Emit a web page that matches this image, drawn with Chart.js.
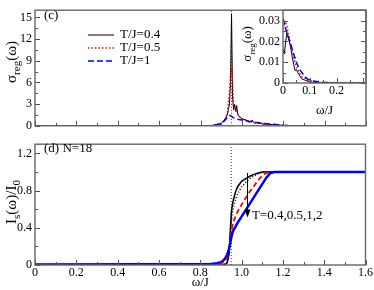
<!DOCTYPE html>
<html>
<head>
<meta charset="utf-8">
<script src="https://cdn.jsdelivr.net/npm/chart.js@4.4.1/dist/chart.umd.min.js"></script>
<style>
  body { margin: 0; background: #fff; }
  #wrap { position: relative; width: 374px; height: 290px; }
  canvas { position: absolute; }
</style>
</head>
<body>
<div id="wrap">
  <canvas id="topChart" width="374" height="136" style="left:0;top:0;width:374px;height:136px"></canvas>
  <canvas id="botChart" width="374" height="156" style="left:0;top:134px;width:374px;height:156px"></canvas>
  <canvas id="insetChart" width="134" height="118" style="left:240px;top:0;width:134px;height:118px"></canvas>
</div>
<script>
// panel (c): regular part of the optical conductivity
const omegaTop = [0, 0.85, 0.9, 0.92, 0.93, 0.94, 0.945, 0.95, 0.955, 0.96, 0.965, 0.97, 0.975, 0.98, 0.99, 1.0, 1.02, 1.04, 1.05, 1.06, 1.08, 1.1, 1.15, 1.2, 1.25, 1.6];
const sigmaT04 = [0, 0, 0.3, 1.0, 1.6, 3.0, 6.0, 15.5, 4.0, 2.2, 3.0, 2.0, 2.8, 1.6, 1.2, 1.0, 0.8, 0.5, 0.8, 0.4, 0.5, 0.3, 0.15, 0.05, 0, 0];
const sigmaT05 = [0, 0, 0.3, 0.9, 1.8, 4.5, 7.0, 8.0, 6.0, 3.0, 2.5, 2.2, 2.0, 1.6, 1.2, 0.9, 0.7, 0.5, 0.6, 0.4, 0.4, 0.3, 0.15, 0.05, 0, 0];
const sigmaT1  = [0, 0, 0.3, 0.8, 1.2, 1.45, 1.4, 1.3, 1.2, 1.1, 1.05, 1.0, 0.95, 0.9, 0.85, 0.8, 0.7, 0.6, 0.55, 0.5, 0.4, 0.35, 0.2, 0.08, 0, 0];

// inset: low frequency part
const omegaInset = [0, 0.005, 0.01, 0.015, 0.02, 0.025, 0.03, 0.035, 0.04, 0.045, 0.05, 0.055, 0.06, 0.07, 0.08, 0.09, 0.1, 0.12, 0.15, 0.2, 0.31];
const insetT04 = [0.016, 0.014, 0.020, 0.024, 0.022, 0.019, 0.016, 0.012, 0.009, 0.006, 0.0065, 0.005, 0.004, 0.002, 0.0015, 0.001, 0.0005, 0.0003, 0, 0, 0];
const insetT05 = [0.026, 0.028, 0.029, 0.027, 0.024, 0.021, 0.018, 0.015, 0.012, 0.010, 0.008, 0.0065, 0.005, 0.003, 0.0025, 0.0015, 0.001, 0.0005, 0.0002, 0, 0];
const insetT1  = [0.031, 0.029, 0.026, 0.024, 0.022, 0.020, 0.018, 0.016, 0.014, 0.012, 0.010, 0.0085, 0.007, 0.005, 0.0035, 0.002, 0.0015, 0.0008, 0.0003, 0, 0];

// panel (d): integrated spectral weight
const omegaBot = [0, 0.5, 0.85, 0.88, 0.9, 0.91, 0.92, 0.93, 0.94, 0.945, 0.95, 0.955, 0.96, 0.97, 0.98, 1.0, 1.02, 1.04, 1.06, 1.08, 1.1, 1.12, 1.14, 1.16, 1.6];
const weightT04 = [0, 0, 0, 0, 0, 0.002, 0.005, 0.02, 0.12, 0.35, 0.55, 0.64, 0.7, 0.78, 0.84, 0.9, 0.93, 0.955, 0.975, 0.99, 1, 1, 1, 1, 1];
const weightT05 = [0, 0, 0, 0, 0.002, 0.005, 0.01, 0.03, 0.15, 0.3, 0.45, 0.55, 0.62, 0.7, 0.76, 0.84, 0.89, 0.93, 0.96, 0.98, 0.995, 1, 1, 1, 1];
const weightT1  = [0, 0.002, 0.005, 0.008, 0.015, 0.025, 0.04, 0.08, 0.18, 0.27, 0.35, 0.41, 0.46, 0.52, 0.57, 0.65, 0.72, 0.79, 0.85, 0.91, 0.96, 0.99, 1, 1, 1];
const weightT2  = [0.005, 0.008, 0.012, 0.018, 0.03, 0.045, 0.07, 0.11, 0.18, 0.23, 0.29, 0.34, 0.37, 0.41, 0.45, 0.52, 0.59, 0.66, 0.73, 0.8, 0.87, 0.94, 0.99, 1, 1];

const gapOmega = 0.95;
const legendLabels = ['T/J=0.4', 'T/J=0.5', 'T/J=1'];

// ticks
const xTicks = [0, 0.2, 0.4, 0.6, 0.8, 1, 1.2, 1.4, 1.6];
const xMinor = [0.1, 0.3, 0.5, 0.7, 0.9, 1.1, 1.3, 1.5];
const topYTicks = [0, 3, 6, 9, 12, 15];
const topYMinor = [1.5, 4.5, 7.5, 10.5, 13.5];
const botYTicks = [0, 0.4, 0.8, 1.2];
const botYMinor = [0.2, 0.6, 1.0];
const insetXTicks = [0, 0.1, 0.2];
const insetXMarks = [0, 0.1, 0.2, 0.3];
const insetXMinor = [0.05, 0.15, 0.25];
const insetYTicks = [0, 0.01, 0.02, 0.03];
const insetYMinor = [0.005, 0.015, 0.025];

const pts = (xs, ys) => xs.map((x, i) => ({ x: x, y: ys[i] }));
const setTicks = vals => scale => { scale.ticks = vals.map(v => ({ value: v })); };

const SERIF = 'Liberation Serif';
Chart.defaults.font.family = SERIF;
Chart.defaults.font.size = 12;
Chart.defaults.color = '#000';
Chart.defaults.animation = false;

const tickFont = size => ({ family: SERIF, size: size });

// box around the plot area plus inward tick marks
const framePlugin = {
    id: 'frame',
    afterDatasetsDraw(chart, args, o) {
        const { ctx, chartArea: a } = chart;
        const x = chart.scales.x, y = chart.scales.y;
        ctx.save();
        ctx.strokeStyle = '#555';
        ctx.lineWidth = 1;
        ctx.beginPath();
        const xt = (vals, len) => vals.forEach(v => {
            const p = Math.round(x.getPixelForValue(v)) + 0.5;
            ctx.moveTo(p, a.bottom); ctx.lineTo(p, a.bottom - len);
        });
        const yt = (vals, len) => vals.forEach(v => {
            const p = Math.round(y.getPixelForValue(v)) + 0.5;
            ctx.moveTo(a.left, p); ctx.lineTo(a.left + len, p);
            if (o.right) { ctx.moveTo(a.right, p); ctx.lineTo(a.right - len, p); }
        });
        xt(o.xMajor || [], 5); xt(o.xMinor || [], 3);
        yt(o.yMajor || [], 5); yt(o.yMinor || [], 3);
        ctx.stroke();
        ctx.lineWidth = 1.4;
        ctx.strokeStyle = '#666';
        ctx.strokeRect(a.left, a.top, a.right - a.left, a.bottom - a.top);
        ctx.restore();
    }
};

// rotated axis title with subscripts
function drawRotTitle(ctx, parts, cx, cy, size) {
    ctx.save();
    ctx.translate(cx, cy);
    ctx.rotate(-Math.PI / 2);
    ctx.fillStyle = '#000';
    ctx.textBaseline = 'middle';
    ctx.textAlign = 'left';
    let total = 0;
    parts.forEach(p => {
        ctx.font = (p.sub ? Math.round(size * 0.7) : size) + 'px "' + SERIF + '"';
        p.w = ctx.measureText(p.t).width;
        total += p.w;
    });
    let px = -total / 2;
    parts.forEach(p => {
        ctx.font = (p.sub ? Math.round(size * 0.7) : size) + 'px "' + SERIF + '"';
        ctx.fillText(p.t, px, p.sub ? size * 0.35 : 0);
        px += p.w;
    });
    ctx.restore();
}

const sigmaTitle = [{ t: 'σ' }, { t: 'reg', sub: true }, { t: '(ω)' }];

const lineBase = { pointRadius: 0, tension: 0, fill: false };

// ---------- panel (c) ----------
new Chart(document.getElementById('topChart'), {
    type: 'line',
    data: {
        datasets: [
            { ...lineBase, data: pts(omegaTop, sigmaT1), borderColor: '#0000ff', borderWidth: 1.5, borderDash: [6, 3] },
            { ...lineBase, data: pts(omegaTop, sigmaT05), borderColor: '#ff0000', borderWidth: 1.5, borderDash: [1.5, 2] },
            { ...lineBase, data: pts(omegaTop, sigmaT04), borderColor: '#000', borderWidth: 1 },
            { ...lineBase, data: [{ x: gapOmega, y: 0 }, { x: gapOmega, y: 16 }], borderColor: '#333', borderWidth: 1, borderDash: [1, 2] }
        ]
    },
    options: {
        responsive: false,
        layout: { padding: { left: 0, right: 8, top: 2, bottom: 2 } },
        scales: {
            x: { type: 'linear', min: 0, max: 1.6, display: false },
            y: {
                min: 0, max: 16,
                afterBuildTicks: setTicks(topYTicks),
                afterFit: s => { s.width = 35; },
                grid: { display: false, drawTicks: false },
                border: { display: false },
                ticks: { padding: 3, font: tickFont(12) }
            }
        },
        plugins: {
            legend: { display: false },
            tooltip: { enabled: false },
            frame: { xMajor: xTicks, xMinor: xMinor, yMajor: topYTicks, yMinor: topYMinor }
        }
    },
    plugins: [framePlugin, {
        id: 'topText',
        afterDraw(chart) {
            const ctx = chart.ctx;
            ctx.save();
            drawRotTitle(ctx, sigmaTitle, 12, 62, 15);
            ctx.fillStyle = '#000';
            ctx.font = '13px "' + SERIF + '"';
            ctx.textBaseline = 'middle';
            ctx.fillText('(c)', 44, 16);
            const styles = [
                { c: '#000', d: [], w: 1 },
                { c: '#ff0000', d: [1.5, 2], w: 1.5 },
                { c: '#0000ff', d: [6, 3], w: 1.5 }
            ];
            legendLabels.forEach((lab, i) => {
                const yy = 35 + i * 13;
                ctx.beginPath();
                ctx.strokeStyle = styles[i].c;
                ctx.lineWidth = styles[i].w;
                ctx.setLineDash(styles[i].d);
                ctx.moveTo(88, yy); ctx.lineTo(114, yy);
                ctx.stroke();
                ctx.setLineDash([]);
                ctx.fillText(lab, 120, yy);
            });
            ctx.restore();
        }
    }]
});

// ---------- panel (d) ----------
new Chart(document.getElementById('botChart'), {
    type: 'line',
    data: {
        datasets: [
            { ...lineBase, data: pts(omegaBot, weightT2), borderColor: '#0000ff', borderWidth: 2.5 },
            { ...lineBase, data: pts(omegaBot, weightT1), borderColor: '#ff0000', borderWidth: 1.8, borderDash: [5, 3] },
            { ...lineBase, data: pts(omegaBot, weightT05), borderColor: '#000', borderWidth: 1.5, borderDash: [1, 2] },
            { ...lineBase, data: pts(omegaBot, weightT04), borderColor: '#000', borderWidth: 1.5 },
            { ...lineBase, data: [{ x: gapOmega, y: 0 }, { x: gapOmega, y: 1.3 }], borderColor: '#333', borderWidth: 1, borderDash: [1, 2] }
        ]
    },
    options: {
        responsive: false,
        layout: { padding: { left: 0, right: 8, top: 0, bottom: 0 } },
        scales: {
            x: {
                type: 'linear', min: 0, max: 1.6,
                afterBuildTicks: setTicks(xTicks),
                afterFit: s => { s.height = 25; },
                grid: { display: false, drawTicks: false },
                border: { display: false },
                ticks: { padding: 1, maxRotation: 0, font: tickFont(12) },
                title: { display: true, text: 'ω/J', padding: 0, font: tickFont(13) }
            },
            y: {
                min: 0, max: 1.3,
                afterBuildTicks: setTicks(botYTicks),
                afterFit: s => { s.width = 35; },
                grid: { display: false, drawTicks: false },
                border: { display: false },
                ticks: { padding: 3, font: tickFont(12) }
            }
        },
        plugins: {
            legend: { display: false },
            tooltip: { enabled: false },
            frame: { xMajor: xTicks, xMinor: xMinor, yMajor: botYTicks, yMinor: botYMinor }
        }
    },
    plugins: [framePlugin, {
        id: 'botText',
        afterDraw(chart) {
            const { ctx, scales: { x, y } } = chart;
            ctx.save();
            drawRotTitle(ctx, [{ t: 'I' }, { t: 's', sub: true }, { t: '(ω)/I' }, { t: '0', sub: true }], 12, 68, 15);
            ctx.fillStyle = '#000';
            ctx.font = '13px "' + SERIF + '"';
            ctx.textBaseline = 'middle';
            ctx.fillText('(d) N=18', 44, 15);
            // arrow marking increasing temperature
            const ax = Math.round(x.getPixelForValue(1.027)) + 0.5;
            const ay0 = y.getPixelForValue(0.99), ay1 = y.getPixelForValue(0.51);
            ctx.strokeStyle = '#000';
            ctx.lineWidth = 1;
            ctx.beginPath();
            ctx.moveTo(ax, ay0); ctx.lineTo(ax, ay1 - 6);
            ctx.stroke();
            ctx.beginPath();
            ctx.moveTo(ax, ay1); ctx.lineTo(ax - 3, ay1 - 8); ctx.lineTo(ax + 3, ay1 - 8); ctx.closePath();
            ctx.fill();
            ctx.fillText('T=0.4,0.5,1,2', x.getPixelForValue(1.05), y.getPixelForValue(0.53));
            ctx.restore();
        }
    }]
});

// ---------- inset ----------
new Chart(document.getElementById('insetChart'), {
    type: 'line',
    data: {
        datasets: [
            { ...lineBase, data: pts(omegaInset, insetT1), borderColor: '#0000ff', borderWidth: 1.5, borderDash: [6, 3] },
            { ...lineBase, data: pts(omegaInset, insetT05), borderColor: '#ff0000', borderWidth: 1.5, borderDash: [1.5, 2] },
            { ...lineBase, data: pts(omegaInset, insetT04), borderColor: '#000', borderWidth: 1 }
        ]
    },
    options: {
        responsive: false,
        layout: { padding: { left: 0, right: 8, top: 2, bottom: 0 } },
        scales: {
            x: {
                type: 'linear', min: 0, max: 0.31,
                afterBuildTicks: setTicks(insetXTicks),
                afterFit: s => { s.height = 35; },
                grid: { display: false, drawTicks: false },
                border: { display: false },
                ticks: { padding: 1, maxRotation: 0, font: tickFont(12) },
                title: { display: true, text: 'ω/J', padding: 0, font: tickFont(13) }
            },
            y: {
                min: 0, max: 0.035,
                afterBuildTicks: setTicks(insetYTicks),
                afterFit: s => { s.width = 43; },
                grid: { display: false, drawTicks: false },
                border: { display: false },
                ticks: { padding: 3, font: tickFont(12) }
            }
        },
        plugins: {
            legend: { display: false },
            tooltip: { enabled: false },
            frame: { xMajor: insetXMarks, xMinor: insetXMinor, yMajor: insetYTicks, yMinor: insetYMinor, right: true }
        }
    },
    plugins: [framePlugin, {
        id: 'insetText',
        afterDraw(chart) {
            drawRotTitle(chart.ctx, sigmaTitle, 8, 44, 13);
        }
    }]
});
</script>
</body>
</html>
